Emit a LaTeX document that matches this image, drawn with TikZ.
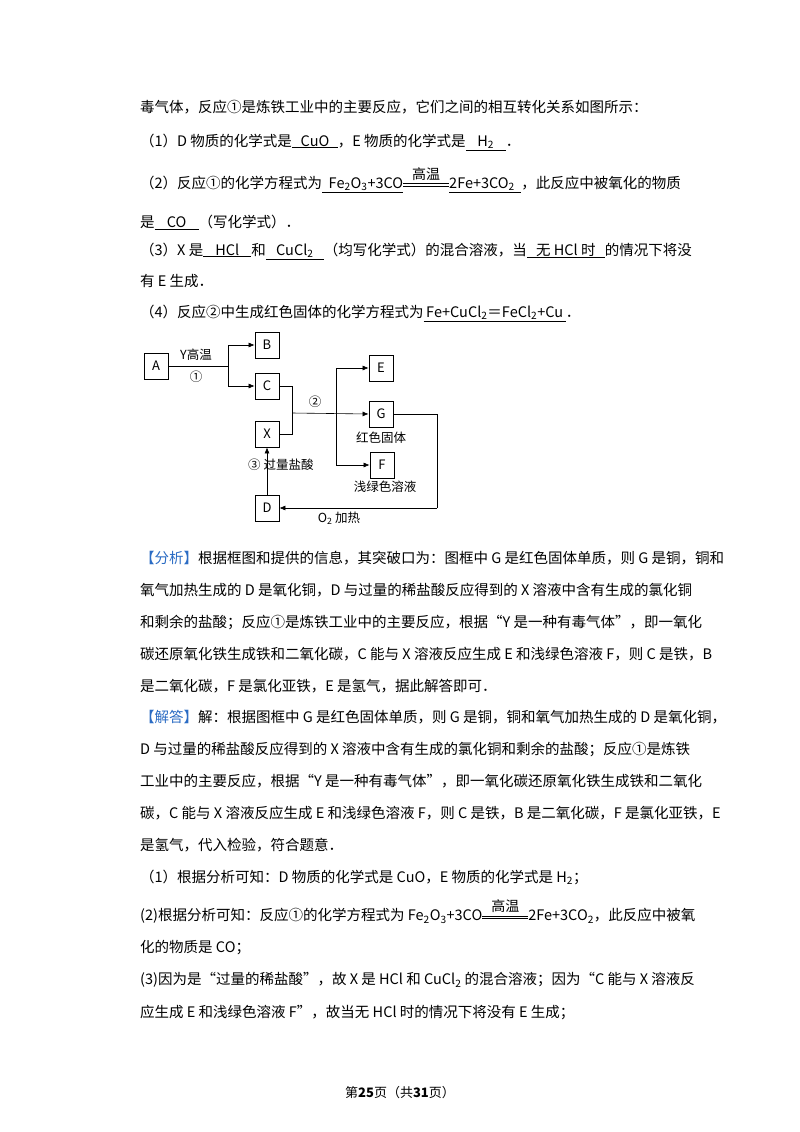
\documentclass[tikz,border=0pt]{standalone}
\usepackage{fontspec}
\setmainfont{Noto Sans CJK SC}
\usetikzlibrary{arrows.meta}
\newcommand{\ul}[2]{\underline{\makebox[#1][c]{#2}}}
\newcommand{\sub}[1]{\textsubscript{#1}}
\newcommand{\gw}{\mbox{\ooalign{\raisebox{9pt}{\makebox[46pt]{\fontsize{14}{16}\selectfont 高温}}\cr\raisebox{2pt}{\rule{46pt}{0.5pt}}\cr\raisebox{4.5pt}{\rule{46pt}{0.5pt}}}}}
\definecolor{fx}{HTML}{2B6CC4}
\tikzset{ln/.style={anchor=west,inner sep=0,font=\fontsize{14.5}{17}\selectfont},
 bx/.style={draw,thick,minimum width=24pt,minimum height=26pt,inner sep=0,font=\fontsize{13}{15}\selectfont},
 lb/.style={font=\fontsize{12.5}{15}\selectfont,inner sep=0},
 ar/.style={-{Latex[length=6pt,width=5pt]},semithick},
 li/.style={semithick}}
\begin{document}
\begin{tikzpicture}[x=1pt,y=-1pt]
\useasboundingbox[fill=white] (0,0) rectangle (800,1132);
\node[ln] (l1) at (140,107) {毒气体，反应①是炼铁工业中的主要反应，它们之间的相互转化关系如图所示：};
\node[ln] (l2) at (140,142) {（1）D 物质的化学式是\ul{46pt}{CuO}，E 物质的化学式是\ul{40pt}{H\sub2}．};
\node[ln] (l3) at (140,180) {（2）反应①的化学方程式为\underline{\ \ Fe\sub2O\sub3+3CO}\gw\underline{2Fe+3CO\sub2\ \ }，此反应中被氧化的物质};
\node[ln] (l4) at (140,222) {是\ul{44pt}{CO}（写化学式）．};
\node[ln] (l5) at (140,251) {（3）X 是\ul{48pt}{HCl}和\ul{58pt}{CuCl\sub2}（均写化学式）的混合溶液，当\ul{78pt}{无 HCl 时}的情况下将没};
\node[ln] (l6) at (140,281) {有 E 生成．};
\node[ln] (l7) at (140,313) {（4）反应②中生成红色固体的化学方程式为\ul{142pt}{Fe+CuCl\sub2＝FeCl\sub2+Cu}．};
% diagram
\node[bx] (A) at (156,366) {A};
\node[bx] (B) at (267,345) {B};
\node[bx] (C) at (267,386) {C};
\node[bx] (X) at (267,434) {X};
\node[bx] (D) at (267,508) {D};
\node[bx] (E) at (381,368) {E};
\node[bx] (G) at (381,414) {G};
\node[bx] (F) at (382,465) {F};
\coordinate (j1) at (228,366);
\coordinate (j2) at (292,413);
\coordinate (j3) at (336,413);
\coordinate (j4) at (437,508);
\draw[li] (A.east) -- (j1);
\draw[ar] (j1) |- (B.west);
\draw[ar] (j1) |- (C.west);
\draw[li] (C.east) -| (j2);
\draw[li] (X.east) -| (j2);
\draw[ar] (j2) -- (G.west);
\draw[ar] (j3) |- (E.west);
\draw[ar] (j3) |- (F.west);
\draw[li] (G.east) -| (j4);
\draw[ar] (j4) -- (D.east);
\draw[ar] (D.north) -- (X.south);
\node[lb] (t1) at (196,355) {Y高温};
\node[lb] (t2) at (196,377) {①};
\node[lb] (t3) at (315,402) {②};
\node[lb,anchor=west] (t4) at (248,465) {③ 过量盐酸};
\node[lb] (t5) at (381,438) {红色固体};
\node[lb] (t6) at (385,487) {浅绿色溶液};
\node[lb] (t7) at (339,518) {O\sub2 加热};
% analysis
\node[ln] (a1) at (140,558) {{\color{fx}【分析】}根据框图和提供的信息，其突破口为：图框中 G 是红色固体单质，则 G 是铜，铜和};
\node[ln] (a2) at (140,590) {氧气加热生成的 D 是氧化铜，D 与过量的稀盐酸反应得到的 X 溶液中含有生成的氯化铜};
\node[ln] (a3) at (140,622) {和剩余的盐酸；反应①是炼铁工业中的主要反应，根据“Y 是一种有毒气体”，即一氧化};
\node[ln] (a4) at (140,654) {碳还原氧化铁生成铁和二氧化碳，C 能与 X 溶液反应生成 E 和浅绿色溶液 F，则 C 是铁，B};
\node[ln] (a5) at (140,686) {是二氧化碳，F 是氯化亚铁，E 是氢气，据此解答即可．};
\node[ln] (b1) at (140,717) {{\color{fx}【解答】}解：根据图框中 G 是红色固体单质，则 G 是铜，铜和氧气加热生成的 D 是氧化铜，};
\node[ln] (b2) at (140,749) {D 与过量的稀盐酸反应得到的 X 溶液中含有生成的氯化铜和剩余的盐酸；反应①是炼铁};
\node[ln] (b3) at (140,781) {工业中的主要反应，根据“Y 是一种有毒气体”，即一氧化碳还原氧化铁生成铁和二氧化};
\node[ln] (b4) at (140,813) {碳，C 能与 X 溶液反应生成 E 和浅绿色溶液 F，则 C 是铁，B 是二氧化碳，F 是氯化亚铁，E};
\node[ln] (b5) at (140,845) {是氢气，代入检验，符合题意．};
\node[ln] (c1) at (140,877) {（1）根据分析可知：D 物质的化学式是 CuO，E 物质的化学式是 H\sub2；};
\node[ln] (c2) at (140,912) {(2)根据分析可知：反应①的化学方程式为 Fe\sub2O\sub3+3CO\gw 2Fe+3CO\sub2，此反应中被氧};
\node[ln] (c3) at (140,948) {化的物质是 CO；};
\node[ln] (c4) at (140,980) {(3)因为是“过量的稀盐酸”，故 X 是 HCl 和 CuCl\sub2 的混合溶液；因为“C 能与 X 溶液反};
\node[ln] (c5) at (140,1013) {应生成 E 和浅绿色溶液 F”，故当无 HCl 时的情况下将没有 E 生成；};
\node[font=\fontsize{13}{15}\selectfont] (ft) at (400,1093) {第\textbf{25}页（共\textbf{31}页）};
\end{tikzpicture}
\end{document}
